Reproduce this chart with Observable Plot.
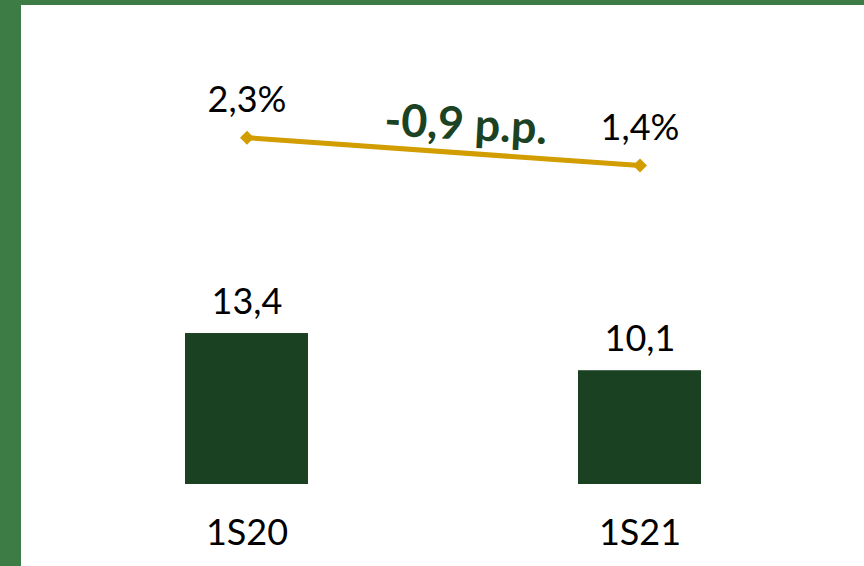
<!DOCTYPE html>
<html>
<head>
<meta charset="utf-8">
<script src="https://cdn.jsdelivr.net/npm/d3@7"></script>
<script src="https://cdn.jsdelivr.net/npm/@observablehq/plot@0.6"></script>
<style>
  html, body { margin: 0; padding: 0; background: #ffffff; }
  #wrap { position: relative; width: 864px; height: 566px; background: #ffffff; overflow: hidden; font-family: Lato, "Noto Sans", sans-serif; }
  #wrap svg { position: absolute; left: 0; top: 0; }
  .edge { position: absolute; background: #3e7c46; }
</style>
</head>
<body>
<div id="wrap">
  <div class="edge" style="left:0;top:0;width:21px;height:566px;"></div>
  <div class="edge" style="left:0;top:0;width:864px;height:5px;"></div>
</div>
<script>
const periods = ["1S20", "1S21"];
const barValues = [13.4, 10.1];
const barLabels = ["13,4", "10,1"];
const rateValues = [2.3, 1.4];
const rateLabels = ["2,3%", "1,4%"];
const deltaLabel = "-0,9 p.p.";

const bars = periods.map((p, i) => ({period: p, value: barValues[i], label: barLabels[i]}));
const rates = periods.map((p, i) => ({period: p, value: rateValues[i], label: rateLabels[i]}));

const W = 864, H = 566;
const xOpts = {domain: periods, paddingInner: 0.6874, paddingOuter: 0.2, align: 0.5};
const font = "Lato, 'Noto Sans', sans-serif";

const barPlot = Plot.plot({
  width: W, height: H,
  marginLeft: 106, marginRight: 84, marginTop: 146, marginBottom: 82,
  style: {background: "transparent", fontFamily: font, color: "#000"},
  x: {...xOpts, type: "band", axis: null, label: null},
  y: {domain: [0, 30], axis: null},
  marks: [
    Plot.barY(bars, {x: "period", y: "value", fill: "#1b4123"}),
    Plot.text(bars, {x: "period", y: "value", text: "label", dy: -20, lineAnchor: "bottom", fontSize: 36, fill: "#000"}),
    Plot.axisX({tickSize: 0, tickPadding: 35, fontSize: 36, fill: "#000", label: null})
  ]
});

const linePlot = Plot.plot({
  width: W, height: H,
  marginLeft: 106, marginRight: 84, marginTop: 53.5, marginBottom: 357.5,
  style: {background: "transparent", fontFamily: font, color: "#000"},
  x: {...xOpts, type: "band", axis: null},
  y: {domain: [0, 5], axis: null},
  marks: [
    Plot.line(rates, {x: "period", y: "value", stroke: "#d19d00", strokeWidth: 5}),
    Plot.dot(rates, {x: "period", y: "value", symbol: "square", r: 5.6, rotate: 45, fill: "#d19d00", stroke: "none"}),
    Plot.text(rates, {x: "period", y: "value", text: "label", dy: -26, lineAnchor: "bottom", fontSize: 36, fill: "#000"}),
    Plot.text([deltaLabel], {x: () => periods[0], y: () => rateValues[0], text: d => d, dx: 218, dy: 2, rotate: 3, lineAnchor: "bottom", fontSize: 45, fontWeight: "bold", fill: "#1b4222"})
  ]
});

const wrap = document.getElementById("wrap");
wrap.insertBefore(barPlot, wrap.firstChild);
wrap.insertBefore(linePlot, wrap.firstChild.nextSibling);
</script>
</body>
</html>
